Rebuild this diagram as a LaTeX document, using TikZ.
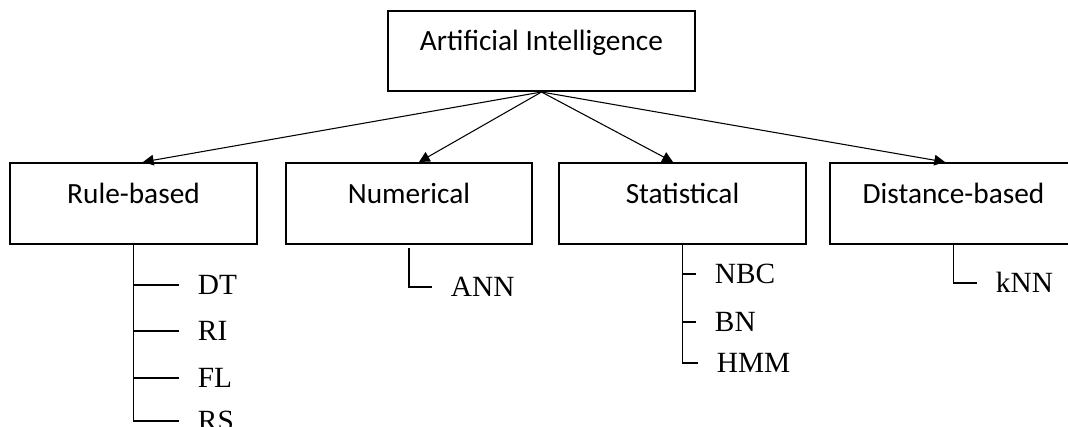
\documentclass[tikz,border=0pt]{standalone}
\usepackage{fontspec}
\setmainfont{Carlito}
\newfontfamily\leaffont{Liberation Serif}
\usetikzlibrary{calc,arrows.meta}

\tikzset{
	catbox/.style={draw, line width=1.5pt, minimum width=185pt, minimum height=60.75pt,
		font=\fontsize{22}{26}\selectfont, text height=16pt, text depth=16.4pt},
	leaf/.style={anchor=west, inner xsep=14pt, inner ysep=0pt,
		font=\leaffont\fontsize{22}{26}\selectfont, text height=14.5pt, text depth=0pt},
	link/.style={line width=0.8pt, -{Triangle[length=8pt,width=8pt]}},
	branch/.style={line width=0.8pt}
}

\begin{document}
\begin{tikzpicture}[x=0.75pt, y=-0.75pt]
			%%%%% START %%%%%
			\useasboundingbox (0, 0) rectangle (1068, 426);
			
			\node[catbox, minimum width=230.25pt, minimum height=60pt] (ai) at (541.5, 51) {Artificial Intelligence};
			
			\node[catbox] (rule) at (133.5, 203.5) {Rule-based};
			\node[catbox] (num) at (409, 203.5) {Numerical};
			\node[catbox] (stat) at (682.5, 203.5) {Statistical};
			\node[catbox] (dist) at (953.5, 203.5) {Distance-based};
			
			\draw[link] (ai.south) -- ($(rule.north)+(9.5, 0)$);
			\draw[link] (ai.south) -- ($(num.north)+(10, 0)$);
			\draw[link] (ai.south) -- ($(stat.north)+(-9.5, 0)$);
			\draw[link] (ai.south) -- ($(dist.north)+(-8.5, 0)$);
			
			\node[leaf] (dt) at (179, 285) {DT};
			\node[leaf] (ri) at (179, 331) {RI};
			\node[leaf] (fl) at (179, 378) {FL};
			\node[leaf] (rs) at (179, 421) {RS};
			\draw[branch] (rule.south) |- (rs.west);
			\draw[branch] (rule.south) |- (dt.west);
			\draw[branch] (rule.south) |- (ri.west);
			\draw[branch] (rule.south) |- (fl.west);
			
			\node[leaf] (ann) at (432, 287) {ANN};
			\draw[branch] ($(num.south)+(0, 3)$) |- (ann.west);
			
			\node[leaf] (nbc) at (696, 274) {NBC};
			\node[leaf] (bn) at (696, 322) {BN};
			\node[leaf] (hmm) at (698, 363) {HMM};
			\draw[branch] (stat.south) |- (hmm.west);
			\draw[branch] (stat.south) |- (nbc.west);
			\draw[branch] (stat.south) |- (bn.west);
			
			\node[leaf] (knn) at (977, 283) {kNN};
			\draw[branch] (dist.south) |- (knn.west);
			
			%%%%% END %%%%%
\end{tikzpicture}
\end{document}
